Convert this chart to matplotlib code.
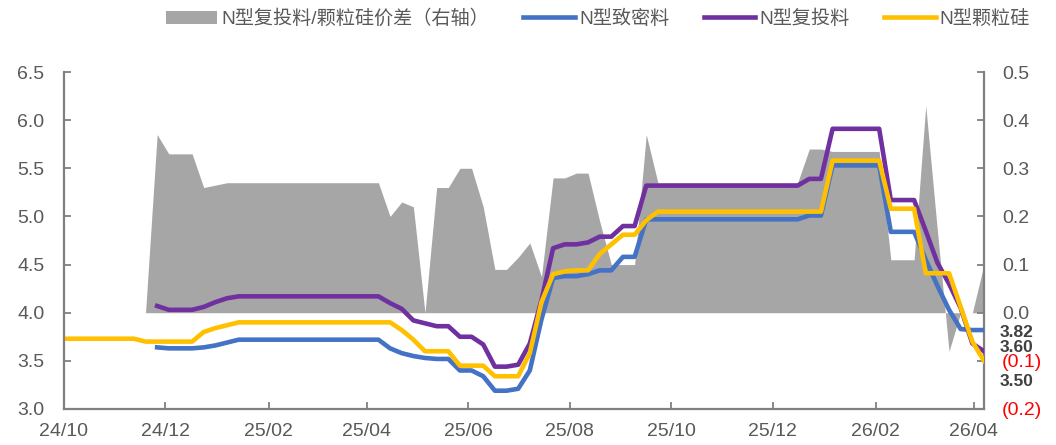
import numpy as np
import pandas as pd
import matplotlib
matplotlib.use("Agg")
import matplotlib.pyplot as plt
import matplotlib.dates as mdates

plt.rcParams['font.family'] = ['Liberation Sans', 'Noto Sans CJK SC', 'DejaVu Sans']

# weekly observations
dates = pd.date_range('2024-10-01', periods=80, freq='7D')
nan = np.nan

granular = ([3.73] * 7 + [3.70] * 5 + [3.80, 3.84, 3.87] + [3.90] * 14 +
            [3.82, 3.72, 3.60, 3.60, 3.60, 3.45, 3.45, 3.45, 3.34, 3.34, 3.34,
             3.58, 4.11, 4.40, 4.43, 4.44, 4.44, 4.61, 4.71, 4.81, 4.81, 4.96] +
            [5.05] * 15 + [5.58] * 5 + [5.08] * 3 + [4.41] * 3 + [4.06, 3.70, 3.50])

recharge = ([nan] * 8 + [4.07, 4.03, 4.03, 4.03, 4.06, 4.11, 4.15] + [4.17] * 13 +
            [4.10, 4.04, 3.92, 3.89, 3.86, 3.86, 3.75, 3.75, 3.67, 3.44, 3.44, 3.46,
             3.68, 4.13, 4.67, 4.71, 4.71, 4.73, 4.79, 4.79, 4.90, 4.90] +
            [5.32] * 14 + [5.39] * 2 + [5.91] * 5 + [5.17] * 3 +
            [4.85, 4.52, 4.30, 4.05, 3.68, 3.60])

dense = ([nan] * 8 + [3.64, 3.63, 3.63, 3.63, 3.64, 3.66, 3.69] + [3.72] * 13 +
         [3.63, 3.58, 3.55, 3.53, 3.52, 3.52, 3.40, 3.40, 3.34, 3.19, 3.19, 3.21,
          3.40, 3.93, 4.36, 4.38, 4.38, 4.40, 4.44, 4.44, 4.58, 4.58] +
         [4.97] * 14 + [5.01] * 2 + [5.53] * 5 + [4.84] * 3 +
         [4.55, 4.28, 4.03, 3.83, 3.82, 3.82])

spread = ([0.0] * 8 + [0.37, 0.33, 0.33, 0.33, 0.26, 0.265, 0.27] + [0.27] * 13 +
          [0.20, 0.23, 0.22, 0.0, 0.26, 0.26, 0.30, 0.30, 0.22, 0.09, 0.09, 0.115,
           0.145, 0.075, 0.28, 0.28, 0.29, 0.29, 0.19, 0.10, 0.10, 0.10, 0.37] +
          [0.27] * 13 + [0.34] * 2 + [0.335] * 5 + [0.11] * 3 +
          [0.43, 0.17, -0.08, 0.0, 0.0, 0.10])

end_labels = ['3.82', '3.60', '3.50']
right_ticks = [-0.2, -0.1, 0.0, 0.1, 0.2, 0.3, 0.4, 0.5]

gray_txt = '#595959'
spine_c = '#808080'

fig = plt.figure(figsize=(10.56, 4.45), dpi=100)
ax = fig.add_axes([0.0606, 0.0809, 0.8712, 0.7573])
ax2 = ax.twinx()
ax.set_zorder(ax2.get_zorder() + 1)
ax.patch.set_visible(False)

area = ax2.fill_between(dates, 0, spread, color='#A6A6A6', lw=0,
                        label='N型复投料/颗粒硅价差（右轴）')
l1, = ax.plot(dates, dense, color='#4472C4', lw=3.3, label='N型致密料')
l2, = ax.plot(dates, recharge, color='#7030A0', lw=3.3, label='N型复投料')
l3, = ax.plot(dates, granular, color='#FFC000', lw=3.3, label='N型颗粒硅')

ax.set_xlim(dates[0], dates[-1])
ax.set_ylim(3.0, 6.5)
ax.set_yticks(np.arange(3.0, 6.51, 0.5))
ax.yaxis.set_major_formatter(plt.FuncFormatter(lambda v, p: f'{v:.1f}'))
ax2.set_ylim(-0.2, 0.5)
ax2.set_yticks(right_ticks)
ax2.set_yticklabels([f'({abs(t):.1f})' if t < 0 else f'{t:.1f}' for t in right_ticks])
for t, lab in zip(right_ticks, ax2.get_yticklabels()):
    lab.set_color('#FF0000' if t < 0 else gray_txt)

ax.xaxis.set_major_locator(mdates.MonthLocator(bymonth=[2, 4, 6, 8, 10, 12]))
ax.xaxis.set_major_formatter(mdates.DateFormatter('%y/%m'))

for a in (ax, ax2):
    for s in a.spines.values():
        s.set_color(spine_c)
        s.set_linewidth(1.6)
    a.spines['top'].set_visible(False)
ax.spines['right'].set_visible(False)
ax2.spines['left'].set_visible(False)
ax2.spines['bottom'].set_visible(False)

ax.tick_params(axis='y', direction='in', length=5, width=1.3, color=spine_c,
               labelcolor=gray_txt, labelsize=14, pad=14)
ax.tick_params(axis='x', direction='in', length=5, width=1.3, color=spine_c,
               labelcolor=gray_txt, labelsize=14, pad=10)
ax2.tick_params(axis='y', direction='in', length=5, width=1.3, color=spine_c,
                labelsize=14, pad=13)

# end-of-series labels (packed tightly beside the right axis, as in the source)
offsets = [-2, 4, -21]
for series, txt, dy in zip([dense, recharge, granular], end_labels, offsets):
    ax.annotate(txt, xy=(dates[-1], series[-1]), xytext=(16, dy),
                textcoords='offset pixels', ha='left', va='center',
                fontsize=12.5, fontweight='bold', color='#404040',
                annotation_clip=False)

fig.legend([area, l1, l2, l3],
           ['N型复投料/颗粒硅价差（右轴）', 'N型致密料', 'N型复投料', 'N型颗粒硅'],
           loc='center', bbox_to_anchor=(0.566, 0.958), ncol=4, frameon=False,
           fontsize=13.8, handlelength=2.7, handletextpad=0.2, columnspacing=1.8,
           labelcolor=gray_txt)

fig.savefig('out.png', dpi=100)
